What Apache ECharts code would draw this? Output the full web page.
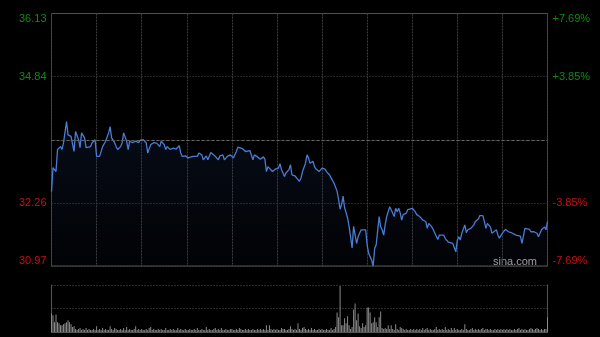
<!DOCTYPE html>
<html>
<head>
<meta charset="utf-8">
<script src="https://cdn.jsdelivr.net/npm/echarts@6/dist/echarts.min.js"></script>
<style>html,body{margin:0;padding:0;background:#000;}#c{width:600px;height:337px;}</style>
</head>
<body>
<div id="c"></div>
<script>
// ---- data ----
const prevClose = 33.55;
const priceMin = 30.97;
const priceMax = 36.13;
const priceStep = 1.29;
const leftTickLabels = ['30.97', '32.26', '', '34.84', '36.13'];
const rightTickLabels = ['-7.69%', '-3.85%', '', '+3.85%', '+7.69%'];

// minute offset from the open (0..330) and price at that minute
const minutes = [0,1,2,3,4,6,7,8,10,11,12,13,15,16,18,19,20,22,23,24,26,27,29,30,32,33,34,36,38,39,40,42,43,44,46,47,48,50,51,52,54,56,58,59,61,63,64,66,68,70,72,73,75,76,77,79,81,83,85,86,87,89,91,92,94,95,97,98,100,101,103,104,106,108,109,111,112,114,115,117,119,120,121,123,124,125,127,129,130,132,133,134,135,137,138,139,141,142,143,144,145,147,148,149,150,151,152,153,154,155,156,157,158,159,160,161,162,163,165,166,167,169,170,171,172,174,175,176,178,179,180,182,183,185,186,188,190,191,192,193,194,195,196,197,198,199,200,201,202,203,204,205,206,207,209,210,211,212,213,214,215,216,217,218,219,220,221,222,223,225,226,227,228,229,230,231,232,233,234,236,237,238,240,242,243,245,246,247,249,250,251,252,253,254,255,257,258,261,262,264,265,267,268,269,270,271,272,273,275,276,277,279,281,282,284,285,287,288,289,290,292,293,294,296,297,298,300,301,302,304,306,307,309,310,312,313,315,316,318,319,321,323,324,325,326,328,329,330];
const prices = [32.49,32.98,32.94,32.90,33.35,33.41,33.35,33.49,33.92,33.65,33.69,33.62,33.31,33.72,33.55,33.39,33.69,33.59,33.39,33.41,33.41,33.49,33.55,33.21,33.21,33.18,33.41,33.52,33.69,33.82,33.59,33.49,33.41,33.35,33.41,33.49,33.69,33.52,33.35,33.52,33.49,33.52,33.49,33.54,33.55,33.49,33.28,33.45,33.49,33.48,33.41,33.52,33.45,33.35,33.41,33.35,33.38,33.36,33.43,33.28,33.21,33.22,33.18,33.15,33.21,33.18,33.21,33.28,33.24,33.14,33.22,33.14,33.29,33.24,33.22,33.14,33.22,33.24,33.14,33.21,33.24,33.28,33.18,33.31,33.40,33.39,33.37,33.31,33.28,33.33,33.29,33.14,33.24,33.20,33.24,33.15,33.20,33.15,32.90,33.00,33.04,32.90,32.94,32.95,32.92,32.97,33.06,32.94,32.87,32.80,32.87,32.83,32.94,33.04,32.83,32.85,32.81,32.80,32.70,32.77,32.90,33.07,33.24,33.18,33.07,33.11,33.00,32.95,32.90,32.94,32.97,32.95,32.90,32.83,32.77,32.66,32.50,32.33,32.13,32.23,32.40,32.16,32.06,31.95,31.78,31.75,31.34,31.78,31.81,31.43,31.57,31.60,31.71,31.74,31.71,31.40,31.23,31.19,31.09,30.97,31.33,31.40,31.37,31.98,31.77,31.71,31.60,31.81,31.98,32.18,32.12,32.15,31.98,32.15,32.08,32.15,32.05,31.91,32.02,32.05,32.12,32.08,32.15,32.08,32.02,31.98,31.98,31.91,31.88,31.74,31.84,31.81,31.77,31.71,31.67,31.51,31.60,31.60,31.53,31.46,31.49,31.43,31.40,31.26,31.50,31.57,31.50,31.64,31.81,31.65,31.71,31.74,31.81,31.88,31.93,32.00,32.00,31.88,31.74,31.84,31.77,31.64,31.67,31.71,31.60,31.54,31.64,31.65,31.72,31.67,31.65,31.64,31.60,31.57,31.58,31.43,31.74,31.71,31.72,31.67,31.67,31.64,31.57,31.54,31.71,31.77,31.71,31.88];

// volume per minute (index = minute offset), relative units
const volumes = [
19,17,10,18,10,9,7,7,8,9,
10,12,10,8,5,6,3,2,3,4,
2,3,2,4,2,3,2,2,3,2,
6,2,3,2,4,2,3,2,2,6,
3,2,4,3,2,2,3,2,4,2,
5,2,3,2,2,3,6,2,3,2,
3,2,2,3,2,4,5,2,3,2,
2,3,2,3,2,2,4,2,2,3,
2,3,2,2,4,2,3,2,2,3,
2,2,3,2,2,3,2,4,2,2,
3,2,2,5,2,3,2,2,3,4,
2,3,2,4,2,2,3,2,2,3,
3,2,2,3,2,4,3,2,2,3,
2,3,2,2,3,2,2,3,2,3,
2,3,2,7,2,7,3,2,3,2,
3,2,2,4,3,3,2,2,3,6,
3,2,3,2,9,3,2,4,5,3,
2,3,2,4,2,3,2,2,3,2,
3,2,2,3,2,2,4,2,3,5,
20,15,47,7,7,14,9,16,7,3,
5,23,29,12,19,6,4,9,5,7,
25,25,20,9,10,15,10,5,15,21,
4,3,4,3,7,3,7,3,2,8,
3,2,5,4,3,2,3,2,2,3,
2,3,2,3,2,3,2,4,2,3,
4,2,3,2,2,3,5,2,3,2,
3,2,5,2,3,2,4,2,4,2,
3,2,2,3,2,8,3,2,2,3,
4,2,3,2,3,2,3,4,2,3,
3,2,3,2,2,3,2,3,2,3,
2,3,2,3,2,3,2,2,3,2,
3,4,2,3,2,3,2,2,3,4,
3,2,3,4,3,2,3,2,3,3,
15];
const volumeMax = 48;

// ---- chart ----
const priceData = minutes.map((m, i) => [m, prices[i]]);
const volumeData = volumes.map((v, i) => [i, v]);
const upColor = '#128a12';
const downColor = '#c81010';
const labelFont = "'Liberation Sans', Arial, sans-serif";
function tickColor(idx) { return idx > 2 ? upColor : downColor; }
function tickIndex(v) { return Math.round((v - priceMin) / priceStep); }

const chart = echarts.init(document.getElementById('c'), null, {renderer: 'canvas'});
chart.setOption({
  backgroundColor: '#000',
  animation: false,
  grid: [
    {left: 51.5, right: 52.5, top: 13.5, height: 252.5, show: true, borderColor: '#555', borderWidth: 1, backgroundColor: 'transparent'},
    {left: 51.5, right: 52.5, top: 285, height: 47, show: false}
  ],
  xAxis: [
    {type: 'value', gridIndex: 0, min: 0, max: 330, interval: 30,
     axisLine: {show: false}, axisTick: {show: false}, axisLabel: {show: false},
     splitLine: {show: true, lineStyle: {color: '#3c3c3c', type: [2, 1], width: 1}}},
    {type: 'value', gridIndex: 1, min: 0, max: 330,
     axisLine: {show: true, onZero: false, lineStyle: {color: '#555'}}, axisTick: {show: false}, axisLabel: {show: false},
     splitLine: {show: false}}
  ],
  yAxis: [
    {type: 'value', gridIndex: 0, min: priceMin, max: priceMax, interval: priceStep, position: 'left',
     axisLine: {show: false}, axisTick: {show: false},
     axisLabel: {show: true, margin: 5, fontSize: 11, fontFamily: labelFont,
       formatter: (v) => leftTickLabels[tickIndex(v)] || '',
       color: (v) => tickColor(tickIndex(v)),
       verticalAlignMinLabel: 'bottom', verticalAlignMaxLabel: 'top'},
     splitLine: {show: true, lineStyle: {color: '#4a4a4a', type: [1, 2], width: 1}}},
    {type: 'value', gridIndex: 0, min: priceMin, max: priceMax, interval: priceStep, position: 'right',
     axisLine: {show: false}, axisTick: {show: false},
     axisLabel: {show: true, margin: 5, fontSize: 11, fontFamily: labelFont,
       formatter: (v) => rightTickLabels[tickIndex(v)] || '',
       color: (v) => tickColor(tickIndex(v)),
       verticalAlignMinLabel: 'bottom', verticalAlignMaxLabel: 'top'},
     splitLine: {show: false}},
    {type: 'value', gridIndex: 1, min: 0, max: volumeMax, interval: volumeMax / 2, position: 'left',
     axisLine: {show: true, lineStyle: {color: '#555'}}, axisTick: {show: false}, axisLabel: {show: false},
     splitLine: {show: true, lineStyle: {color: '#555', type: [1, 2], width: 1}}},
    {type: 'value', gridIndex: 1, min: 0, max: volumeMax, interval: volumeMax / 2, position: 'right',
     axisLine: {show: true, lineStyle: {color: '#555'}}, axisTick: {show: false}, axisLabel: {show: false},
     splitLine: {show: false}}
  ],
  series: [
    {type: 'line', xAxisIndex: 0, yAxisIndex: 0, data: priceData, symbol: 'none', smooth: false,
     lineStyle: {color: '#4a7cd4', width: 1.3},
     areaStyle: {origin: 'start', color: new echarts.graphic.LinearGradient(0, 0, 0, 1, [
       {offset: 0, color: 'rgba(40,75,150,0.22)'},
       {offset: 1, color: 'rgba(40,75,150,0.05)'}
     ])},
     markLine: {silent: true, symbol: 'none', label: {show: false},
       lineStyle: {color: '#666', type: [3, 2], width: 1},
       data: [{yAxis: prevClose}]}},
    {type: 'bar', xAxisIndex: 1, yAxisIndex: 2, data: volumeData, barWidth: 1,
     itemStyle: {color: '#8a8a8a'}}
  ],
  graphic: [
    {type: 'text', right: 63, top: 256, style: {text: 'sina.com', fill: '#a0a0a0', font: "11px 'Liberation Sans', Arial, sans-serif"}}
  ]
});
</script>
</body>
</html>
